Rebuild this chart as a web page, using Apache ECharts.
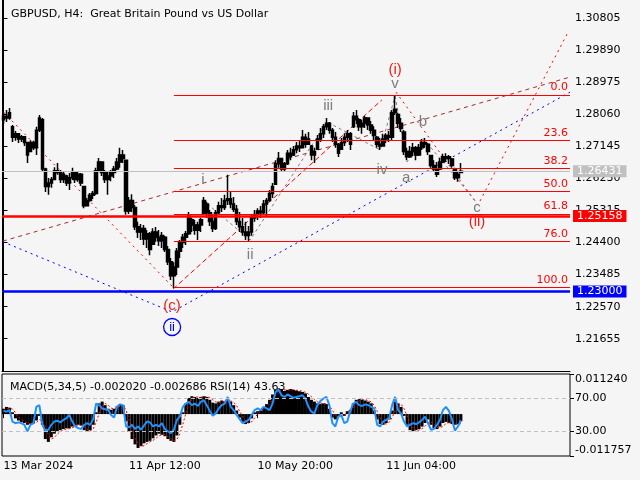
<!DOCTYPE html>
<html><head><meta charset="utf-8">
<script src="https://cdn.jsdelivr.net/npm/echarts@6/dist/echarts.min.js"></script>
<style>html,body{margin:0;padding:0;background:#f5f5f5;}#c{width:640px;height:480px;}</style>
</head><body><div id="c"></div>
<script>
const chartTitle = 'GBPUSD, H4:  Great Britain Pound vs US Dollar';
const indicatorTitle = 'MACD(5,34,5) -0.002020 -0.002686 RSI(14) 43.63';
const slotCount = 190;
const dateTickIndex = [0, 42, 85, 128];
const dateTickLabels = ['13 Mar 2024', '11 Apr 12:00', '10 May 20:00', '11 Jun 04:00'];
const priceTicks = [1.30805, 1.29890, 1.28975, 1.28060, 1.27145, 1.26230, 1.25315, 1.24400, 1.23485, 1.22570, 1.21655];
const priceMin = 1.20734, priceMax = 1.31319;
const macdMax = 0.011240, macdMin = -0.011757;
const rsiTicks = [30, 70];

// [open, close, low, high]
const ohlc = [
[1.2790,1.2800,1.2778,1.2810],[1.2800,1.2795,1.2784,1.2818],[1.2795,1.2810,1.2790,1.2824],[1.2770,1.2740,1.2727,1.2775],
[1.2740,1.2750,1.2730,1.2758],[1.2750,1.2735,1.2724,1.2752],[1.2735,1.2742,1.2727,1.2747],[1.2742,1.2725,1.2715,1.2744],
[1.2725,1.2690,1.2667,1.2727],[1.2700,1.2725,1.2698,1.2732],[1.2725,1.2710,1.2704,1.2730],[1.2710,1.2760,1.2690,1.2770],
[1.2760,1.2795,1.2755,1.2804],[1.2790,1.2650,1.2641,1.2795],[1.2650,1.2600,1.2584,1.2653],[1.2600,1.2610,1.2576,1.2624],
[1.2610,1.2620,1.2596,1.2627],[1.2620,1.2645,1.2618,1.2655],[1.2645,1.2640,1.2633,1.2667],[1.2640,1.2620,1.2610,1.2647],
[1.2620,1.2635,1.2610,1.2641],[1.2630,1.2610,1.2601,1.2633],[1.2610,1.2625,1.2590,1.2638],[1.2625,1.2640,1.2618,1.2653],
[1.2640,1.2620,1.2610,1.2641],[1.2620,1.2635,1.2613,1.2644],[1.2635,1.2610,1.2601,1.2638],[1.2600,1.2545,1.2538,1.2601],
[1.2545,1.2560,1.2544,1.2567],[1.2560,1.2575,1.2556,1.2581],[1.2575,1.2580,1.2564,1.2587],[1.2580,1.2645,1.2576,1.2653],
[1.2645,1.2670,1.2644,1.2681],[1.2670,1.2640,1.2630,1.2670],[1.2640,1.2620,1.2610,1.2647],[1.2620,1.2630,1.2576,1.2641],
[1.2630,1.2640,1.2615,1.2647],[1.2640,1.2650,1.2624,1.2658],[1.2650,1.2670,1.2647,1.2681],[1.2670,1.2690,1.2653,1.2710],
[1.2690,1.2680,1.2667,1.2704],[1.2675,1.2530,1.2519,1.2675],[1.2530,1.2560,1.2521,1.2570],[1.2560,1.2540,1.2527,1.2578],
[1.2540,1.2485,1.2476,1.2547],[1.2485,1.2470,1.2453,1.2499],[1.2470,1.2480,1.2447,1.2493],[1.2480,1.2450,1.2433,1.2490],
[1.2450,1.2465,1.2424,1.2476],[1.2465,1.2420,1.2404,1.2470],[1.2435,1.2470,1.2433,1.2481],[1.2470,1.2455,1.2442,1.2484],
[1.2455,1.2445,1.2430,1.2476],[1.2445,1.2460,1.2424,1.2470],[1.2455,1.2420,1.2413,1.2459],[1.2420,1.2385,1.2376,1.2430],
[1.2385,1.2345,1.2333,1.2396],[1.2345,1.2370,1.2310,1.2384],[1.2370,1.2415,1.2347,1.2424],[1.2415,1.2440,1.2396,1.2447],
[1.2440,1.2455,1.2424,1.2464],[1.2455,1.2465,1.2433,1.2473],[1.2465,1.2515,1.2462,1.2527],[1.2505,1.2490,1.2470,1.2510],
[1.2490,1.2475,1.2462,1.2504],[1.2475,1.2490,1.2447,1.2499],[1.2490,1.2505,1.2470,1.2510],[1.2522,1.2560,1.2519,1.2570],
[1.2550,1.2525,1.2510,1.2556],[1.2525,1.2500,1.2487,1.2533],[1.2500,1.2480,1.2470,1.2519],[1.2480,1.2525,1.2476,1.2533],
[1.2525,1.2545,1.2519,1.2556],[1.2545,1.2540,1.2527,1.2567],[1.2540,1.2560,1.2533,1.2576],[1.2560,1.2565,1.2547,1.2633],
[1.2565,1.2550,1.2538,1.2584],[1.2550,1.2535,1.2527,1.2570],[1.2535,1.2500,1.2490,1.2547],[1.2500,1.2485,1.2470,1.2527],
[1.2485,1.2470,1.2459,1.2510],[1.2470,1.2460,1.2447,1.2499],[1.2460,1.2470,1.2442,1.2487],[1.2470,1.2510,1.2459,1.2521],
[1.2510,1.2520,1.2499,1.2533],[1.2520,1.2530,1.2504,1.2538],[1.2530,1.2525,1.2510,1.2544],[1.2525,1.2550,1.2521,1.2561],
[1.2550,1.2560,1.2516,1.2567],[1.2560,1.2580,1.2556,1.2590],[1.2580,1.2600,1.2567,1.2610],[1.2606,1.2665,1.2604,1.2675],
[1.2665,1.2680,1.2653,1.2698],[1.2680,1.2650,1.2641,1.2681],[1.2650,1.2665,1.2641,1.2670],[1.2665,1.2695,1.2661,1.2704],
[1.2695,1.2685,1.2675,1.2710],[1.2690,1.2705,1.2687,1.2715],[1.2705,1.2715,1.2695,1.2727],[1.2715,1.2710,1.2698,1.2732],
[1.2710,1.2740,1.2710,1.2761],[1.2740,1.2720,1.2710,1.2750],[1.2720,1.2735,1.2718,1.2755],[1.2715,1.2690,1.2675,1.2718],
[1.2690,1.2700,1.2667,1.2710],[1.2706,1.2735,1.2704,1.2747],[1.2735,1.2750,1.2727,1.2767],[1.2750,1.2770,1.2738,1.2778],
[1.2770,1.2780,1.2761,1.2795],[1.2780,1.2760,1.2750,1.2784],[1.2760,1.2740,1.2727,1.2767],[1.2740,1.2720,1.2710,1.2755],
[1.2720,1.2695,1.2684,1.2724],[1.2706,1.2725,1.2704,1.2738],[1.2725,1.2740,1.2715,1.2752],[1.2740,1.2750,1.2727,1.2761],
[1.2750,1.2720,1.2704,1.2755],[1.2770,1.2800,1.2767,1.2812],[1.2800,1.2790,1.2778,1.2818],[1.2790,1.2770,1.2758,1.2795],
[1.2770,1.2780,1.2750,1.2790],[1.2780,1.2795,1.2767,1.2801],[1.2795,1.2775,1.2761,1.2795],[1.2775,1.2760,1.2750,1.2787],
[1.2760,1.2745,1.2732,1.2772],[1.2740,1.2720,1.2710,1.2744],[1.2720,1.2715,1.2704,1.2738],[1.2715,1.2735,1.2715,1.2750],
[1.2735,1.2745,1.2724,1.2752],[1.2745,1.2740,1.2727,1.2758],[1.2740,1.2810,1.2732,1.2818],[1.2810,1.2820,1.2804,1.2861],
[1.2805,1.2780,1.2767,1.2810],[1.2780,1.2765,1.2755,1.2795],[1.2755,1.2700,1.2690,1.2761],[1.2700,1.2685,1.2675,1.2710],
[1.2685,1.2700,1.2681,1.2715],[1.2700,1.2710,1.2687,1.2724],[1.2710,1.2690,1.2675,1.2715],[1.2690,1.2710,1.2687,1.2721],
[1.2710,1.2725,1.2704,1.2735],[1.2725,1.2720,1.2710,1.2738],[1.2720,1.2700,1.2690,1.2724],[1.2688,1.2660,1.2653,1.2690],
[1.2660,1.2650,1.2641,1.2675],[1.2650,1.2635,1.2627,1.2670],[1.2650,1.2670,1.2647,1.2681],[1.2670,1.2685,1.2667,1.2693],
[1.2685,1.2680,1.2670,1.2695],[1.2680,1.2685,1.2664,1.2690],[1.2678,1.2660,1.2653,1.2681],[1.2650,1.2625,1.2618,1.2653],
[1.2625,1.2635,1.2613,1.2641],[1.2640,1.2643,1.2638,1.2667]
];

const macdHist = [
0.0015,0.0020,0.0018,0.0005,-0.0012,-0.0018,-0.0022,-0.0025,-0.0030,-0.0028,
-0.0025,-0.0018,-0.0005,-0.0030,-0.0070,-0.0078,-0.0065,-0.0055,-0.0048,-0.0045,
-0.0042,-0.0040,-0.0040,-0.0035,-0.0032,-0.0030,-0.0032,-0.0045,-0.0050,-0.0045,
-0.0030,0.0005,0.0030,0.0035,0.0025,0.0015,0.0012,0.0015,0.0022,0.0028,
0.0025,-0.0020,-0.0050,-0.0070,-0.0085,-0.0095,-0.0090,-0.0082,-0.0078,-0.0075,
-0.0068,-0.0060,-0.0055,-0.0058,-0.0062,-0.0070,-0.0075,-0.0078,-0.0060,-0.0030,
0.0005,0.0030,0.0045,0.0050,0.0048,0.0045,0.0048,0.0050,0.0048,0.0040,
0.0032,0.0030,0.0035,0.0038,0.0035,0.0040,0.0035,0.0025,0.0010,-0.0010,
-0.0022,-0.0028,-0.0025,-0.0012,0.0005,0.0008,0.0010,0.0020,0.0028,0.0040,
0.0055,0.0068,0.0072,0.0068,0.0065,0.0068,0.0070,0.0068,0.0066,0.0064,
0.0062,0.0058,0.0048,0.0040,0.0035,0.0030,0.0028,0.0030,0.0028,0.0015,
-0.0010,-0.0015,-0.0008,0.0005,-0.0005,0.0008,0.0012,0.0030,0.0040,0.0042,
0.0040,0.0038,0.0035,0.0030,0.0010,-0.0015,-0.0028,-0.0030,-0.0025,-0.0015,
0.0010,0.0035,0.0030,0.0020,-0.0005,-0.0030,-0.0045,-0.0048,-0.0045,-0.0042,
-0.0035,-0.0025,-0.0015,-0.0030,-0.0040,-0.0042,-0.0035,-0.0025,-0.0022,-0.0025,
-0.0028,-0.0030,-0.0028,-0.002020
];

const macdSignal = [
0.0010,0.0014,0.0017,0.0014,0.0004,-0.0008,-0.0016,-0.0021,-0.0025,-0.0027,
-0.0027,-0.0024,-0.0016,-0.0018,-0.0035,-0.0058,-0.0070,-0.0066,-0.0056,-0.0049,
-0.0045,-0.0042,-0.0041,-0.0038,-0.0035,-0.0032,-0.0031,-0.0036,-0.0043,-0.0047,
-0.0042,-0.0023,0.0002,0.0023,0.0030,0.0025,0.0017,0.0014,0.0016,0.0022,
0.0025,0.0011,-0.0015,-0.0047,-0.0068,-0.0083,-0.0090,-0.0089,-0.0083,-0.0078,
-0.0074,-0.0068,-0.0061,-0.0058,-0.0058,-0.0063,-0.0069,-0.0074,-0.0071,-0.0056,
-0.0028,0.0002,0.0027,0.0042,0.0048,0.0048,0.0047,0.0048,0.0049,0.0046,
0.0040,0.0034,0.0032,0.0034,0.0036,0.0038,0.0037,0.0033,0.0023,0.0008,
-0.0007,-0.0020,-0.0025,-0.0022,-0.0011,0.0000,0.0008,0.0013,0.0019,0.0029,
0.0041,0.0054,0.0065,0.0069,0.0068,0.0067,0.0068,0.0068,0.0067,0.0066,
0.0064,0.0061,0.0056,0.0049,0.0041,0.0035,0.0031,0.0029,0.0029,0.0024,
0.0011,-0.0003,-0.0011,-0.0006,-0.0003,0.0003,0.0005,0.0017,0.0027,0.0037,
0.0041,0.0040,0.0038,0.0034,0.0025,0.0008,-0.0011,-0.0024,-0.0028,-0.0023,
-0.0010,0.0010,0.0025,0.0028,0.0015,-0.0005,-0.0027,-0.0041,-0.0046,-0.0045,
-0.0041,-0.0034,-0.0025,-0.0023,-0.0028,-0.0037,-0.0039,-0.0034,-0.0027,-0.0024,
-0.0025,-0.0028,-0.0029,-0.002686
];

const rsiValues = [
55,54,56,42,40,41,40,38,30,38,
40,60,62,38,31,32,38,42,43,41,
44,46,50,42,36,34,33,38,40,38,
45,64,62,58,57,56,50,47,60,63,
62,36,35,38,33,36,32,37,42,41,
36,38,36,40,33,30,28,32,44,48,
60,64,66,62,64,61,66,68,62,55,
49,52,58,62,64,72,60,56,50,45,
40,42,44,50,56,58,56,60,58,56,
64,78,81,74,72,75,73,71,72,73,
74,70,60,54,52,62,67,70,72,62,
40,36,48,50,40,42,55,64,66,62,
61,63,62,60,58,38,36,42,44,46,
62,72,56,52,42,36,38,40,39,41,
44,48,40,32,33,38,44,56,60,55,
45,31,36,43.63
];

// horizontal price levels drawn across the chart
const levelPrices = [1.26431, 1.25158, 1.23000];
const levelColors = ['#c0c0c0', '#ff0000', '#0000ff'];
const levelWidths = [1, 2.5, 2.5];

// Fibonacci retracement
const fibLabels = ['0.0', '23.6', '38.2', '50.0', '61.8', '76.0', '100.0'];
const fibPrices = [1.2861, 1.27314, 1.26513, 1.25865, 1.25217, 1.24438, 1.2312];
const fibStartIndex = 57, fibEndIndex = 189.5;

// trend / wave lines as [bar index, price]
const redDotDown = [[0, 1.2812], [57, 1.2310]];
const blueDotted = [[-0.2, 1.2442], [56.4, 1.2242], [189.5, 1.2869]];
const brownDashed = [[-0.2, 1.2444], [189.5, 1.2912]];
const redChannel = [[56.7, 1.2307], [126.6, 1.2847]];
const redForecast = [[131.3, 1.2869], [158.7, 1.2547], [188.9, 1.3041]];
const grayImpulse = [[66.7, 1.2561], [82.5, 1.2447], [108.2, 1.2784], [126, 1.2704], [131, 1.2858]];
const grayCorrection = [[131, 1.2858], [135, 1.2670], [140.3, 1.2738], [158.4, 1.2553]];

// wave labels
const waveText  = ['(i)', 'v', 'iii', 'iv', 'a', 'b', 'c', '(ii)', 'i', 'ii', '(c)'];
const waveIndex = [131, 131, 108.6, 126.6, 134.7, 140.3, 158.4, 158.4, 66.7, 82.5, 56.4];
const wavePrice = [1.2932, 1.2892, 1.2830, 1.2647, 1.2624, 1.2784, 1.2539, 1.2499, 1.2618, 1.2404, 1.2259];
const waveIsMajor = [true, false, false, false, false, false, false, true, false, false, true];
const circleLabel = {text: 'ii', index: 56.4, price: 1.2199};

const FONT = 'DejaVu Sans';
const RED = '#f01e14', GRAY = '#7d7d7d';

const categories = [];
for (let i = 0; i < slotCount; i++) categories.push(String(i));

function overlay(name, data, color, type, width) {
  return {name, type: 'line', xAxisIndex: 1, yAxisIndex: 0, data, symbol: 'none', silent: true, z: 1,
    lineStyle: {color, width: width || 1, type}, animation: false};
}

const chart = echarts.init(document.getElementById('c'), null, {renderer: 'canvas'});
const fibMark = {
  silent: true, symbol: 'none', animation: false, precision: 6,
  lineStyle: {color: '#ff0000', width: 1, type: 'solid'},
  label: {show: true, position: 'insideEndTop', formatter: '{b}', color: '#ff0000', fontSize: 11, fontFamily: FONT, distance: 2},
  data: fibPrices.map((p, k) => [{coord: [fibStartIndex, p], name: fibLabels[k]}, {coord: [fibEndIndex, p]}])
};

const option = {
  backgroundColor: '#f5f5f5',
  animation: false,
  title: [
    {text: chartTitle, left: 6, top: 4, textStyle: {fontSize: 11, fontWeight: 'normal', fontFamily: FONT, color: '#000'}},
    {text: indicatorTitle, left: 5, top: 377, textStyle: {fontSize: 11, fontWeight: 'normal', fontFamily: FONT, color: '#000'}}
  ],
  grid: [
    {left: 2, right: 70, top: 0, height: 371, show: false},
    {left: 2, right: 70, top: 374, height: 82, show: true, borderColor: '#000', borderWidth: 1, backgroundColor: 'transparent'}
  ],
  xAxis: [
    {type: 'category', gridIndex: 0, data: categories, boundaryGap: true,
      axisLine: {show: true, lineStyle: {color: '#000'}}, axisTick: {show: false}, axisLabel: {show: false}, splitLine: {show: false}},
    {type: 'value', gridIndex: 0, min: -0.5, max: slotCount - 0.5, show: false},
    {type: 'category', gridIndex: 1, data: categories, boundaryGap: true,
      axisLine: {show: false},
      axisTick: {show: true, alignWithLabel: true, length: 4, interval: (i) => dateTickIndex.includes(i), lineStyle: {color: '#000'}},
      axisLabel: {show: true, interval: (i) => dateTickIndex.includes(i), align: 'left', margin: 5,
        formatter: (v, i) => dateTickLabels[dateTickIndex.indexOf(Number(v))] || '',
        fontSize: 11, fontFamily: FONT, color: '#000'},
      splitLine: {show: false}}
  ],
  yAxis: [
    {type: 'value', gridIndex: 0, position: 'right', min: priceMin, max: priceMax, scale: true,
      axisLine: {show: true, lineStyle: {color: '#000'}},
      axisTick: {show: true, length: 4, customValues: priceTicks, lineStyle: {color: '#000'}},
      axisLabel: {show: true, customValues: priceTicks, formatter: (v) => v.toFixed(5), margin: 5,
        fontSize: 11, fontFamily: FONT, color: '#000'},
      splitLine: {show: false}},
    {type: 'value', gridIndex: 0, position: 'left', min: priceMin, max: priceMax, scale: true,
      axisLine: {show: true, onZero: false, lineStyle: {color: '#000'}}, axisTick: {show: false}, axisLabel: {show: false}, splitLine: {show: false}},
    {type: 'value', gridIndex: 1, position: 'right', min: macdMin, max: macdMax,
      axisLine: {show: false},
      axisTick: {show: true, length: 4, customValues: [macdMax], lineStyle: {color: '#000'}},
      axisLabel: {show: true, customValues: [macdMax], formatter: (v) => v.toFixed(6), verticalAlign: 'top', margin: 5,
        fontSize: 11, fontFamily: FONT, color: '#000'},
      splitLine: {show: false}},
    {type: 'value', gridIndex: 1, position: 'right', min: macdMin, max: macdMax,
      axisLine: {show: false},
      axisTick: {show: true, length: 4, customValues: [macdMin], lineStyle: {color: '#000'}},
      axisLabel: {show: true, customValues: [macdMin], formatter: (v) => v.toFixed(6), verticalAlign: 'bottom', margin: 5,
        fontSize: 11, fontFamily: FONT, color: '#000'},
      splitLine: {show: false}},
    {type: 'value', gridIndex: 1, position: 'right', min: 0, max: 100,
      axisLine: {show: false},
      axisTick: {show: true, length: 4, customValues: rsiTicks, lineStyle: {color: '#000'}},
      axisLabel: {show: true, customValues: rsiTicks, formatter: (v) => v.toFixed(2), margin: 5,
        fontSize: 11, fontFamily: FONT, color: '#000'},
      splitLine: {show: false}}
  ],
  series: [
    overlay('brown', brownDashed, '#a52a2a', [4, 4], 1),
    overlay('blue', blueDotted, '#0000ff', [2, 4], 1),
    Object.assign(overlay('redDown', redDotDown, '#ff0000', [2, 4], 1), {markLine: fibMark}),
    overlay('channel', redChannel, '#ff0000', [5, 3], 1),
    overlay('forecast', redForecast, '#ff0000', [2, 4], 1),
    overlay('impulse', grayImpulse, '#808080', [3, 3], 1),
    overlay('correction', grayCorrection, '#808080', [3, 3], 1),
    {
      name: 'GBPUSD', type: 'candlestick', xAxisIndex: 0, yAxisIndex: 0, data: ohlc, barWidth: 3, z: 3,
      itemStyle: {color: '#000', color0: '#000', borderColor: '#000', borderColor0: '#000', borderWidth: 1.5},
      markLine: {
        silent: true, symbol: 'none', animation: false, precision: 6,
        data: levelPrices.map((p, k) => ({
          yAxis: p,
          lineStyle: {color: levelColors[k], width: levelWidths[k], type: 'solid'},
          label: {show: true, position: 'end', distance: 3, formatter: p.toFixed(5), color: '#fff',
            backgroundColor: levelColors[k], padding: [1, 4, 0, 4], fontSize: 11, fontFamily: FONT}
        }))
      }
    },
    {
      name: 'waves', type: 'scatter', xAxisIndex: 1, yAxisIndex: 0, symbolSize: 1, z: 6, silent: true,
      itemStyle: {color: 'rgba(0,0,0,0)', opacity: 1},
      data: waveText.map((t, k) => ({
        value: [waveIndex[k], wavePrice[k]],
        label: {show: true, position: 'inside', formatter: t, fontSize: 15, fontFamily: 'Liberation Sans',
          color: waveIsMajor[k] ? RED : GRAY, textBorderWidth: 0, opacity: 1}
      }))
    },
    {
      name: 'circle', type: 'scatter', xAxisIndex: 1, yAxisIndex: 0, symbol: 'circle', symbolSize: 17, z: 6, silent: true,
      itemStyle: {color: 'rgba(0,0,0,0)', borderColor: '#0000ff', borderWidth: 1.3, opacity: 1},
      label: {show: true, position: 'inside', formatter: circleLabel.text, fontSize: 13, fontFamily: 'Liberation Sans',
        color: '#0000ff', textBorderWidth: 0},
      data: [[circleLabel.index, circleLabel.price]]
    },
    {
      name: 'MACD', type: 'bar', xAxisIndex: 2, yAxisIndex: 2, data: macdHist, barWidth: 3, z: 2,
      itemStyle: {color: '#000'}, silent: true
    },
    {
      name: 'Signal', type: 'line', xAxisIndex: 2, yAxisIndex: 2, data: macdSignal, symbol: 'none', z: 3, silent: true,
      lineStyle: {color: '#ff0000', width: 1, type: [2, 2]}
    },
    {
      name: 'RSI', type: 'line', xAxisIndex: 2, yAxisIndex: 4, data: rsiValues, symbol: 'none', z: 4, silent: true,
      lineStyle: {color: '#1e90ff', width: 2},
      markLine: {silent: true, symbol: 'none', label: {show: false}, animation: false,
        lineStyle: {color: '#c0c0c0', width: 1, type: [4, 3]},
        data: [{yAxis: 70}, {yAxis: 30}]}
    }
  ]
};
chart.setOption(option);
</script>
</body></html>
